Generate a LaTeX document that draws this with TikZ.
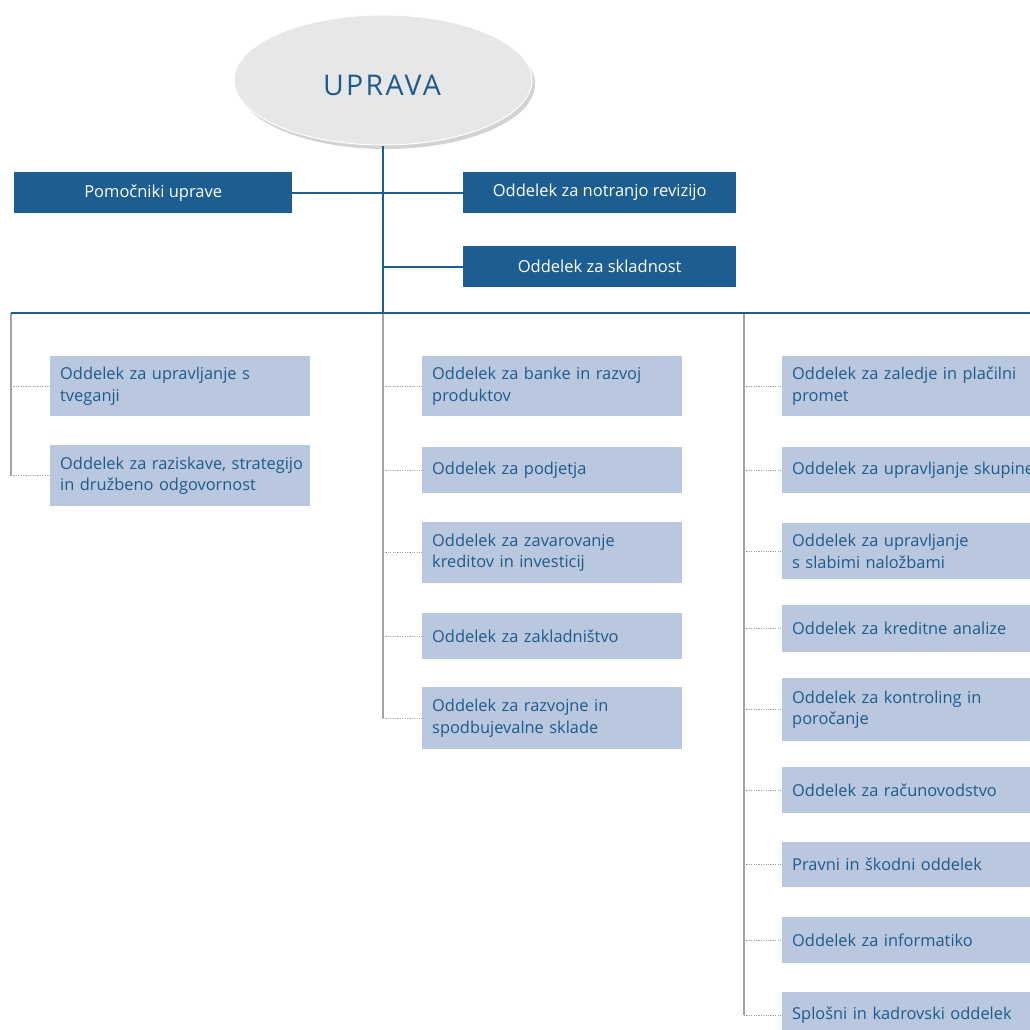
\documentclass[tikz,border=0pt]{standalone}
\usepackage{fontspec}
\setmainfont{Open Sans}
\usetikzlibrary{shapes.geometric,shadows,calc}
\definecolor{darkblue}{HTML}{1D5E92}
\definecolor{textblue}{HTML}{1F5A8C}
\definecolor{lightbox}{HTML}{B9C8DE}
\definecolor{ellfill}{HTML}{E6E7E9}
\definecolor{grayline}{HTML}{A3A3A3}
\newcommand{\oneln}[1]{\mbox{#1}}
\hfuzz=200pt
\begin{document}
\begin{tikzpicture}[x=1pt,y=-1pt,
  topbox/.style={draw=none,fill=darkblue,text=white,anchor=north west,minimum width=#1,minimum height=41pt,inner sep=0pt,font=\fontsize{16.5}{20}\selectfont},
  dept/.style={draw=none,fill=lightbox,text=textblue,anchor=north west,minimum width=260pt,minimum height=#1,inner xsep=10pt,inner ysep=0pt,text width=240pt,align=left,font=\fontsize{16.4}{21.5}\selectfont},
  trunk/.style={draw=darkblue,line width=2.4pt},
  vgray/.style={draw=grayline,line width=1.4pt},
  dotconn/.style={draw=grayline,line width=1.2pt,dash pattern=on 1.2pt off 1.2pt}]
\useasboundingbox (0,0) rectangle (1030,1030);
\clip (0,0) rectangle (1030,1030);
% top
\node[ellipse,fill=ellfill,draw=white,line width=1pt,minimum width=298pt,minimum height=130pt,
  drop shadow={shadow xshift=3pt,shadow yshift=-4pt,opacity=0.35}] (uprava) at (383,80) {};
\node[text=textblue,font=\fontsize{28.5}{30}\selectfont\addfontfeature{LetterSpace=8}] (upt) at (382,85) {UPRAVA};
\node[topbox=278pt] (pom) at (14,172) {Pomočniki uprave};
\node[topbox=273pt] (rev) at (463,172) {Oddelek za notranjo revizijo};
\node[topbox=273pt] (skl) at (463,246) {Oddelek za skladnost};
\coordinate (hb) at (383,313);
\coordinate (hL) at (11,313);
\coordinate (hR) at (1040,313);
\coordinate (v2) at (383,313);
\coordinate (v3) at (744,313);
% department boxes column 1
\node[dept=60pt] (a1) at (50,356) {\oneln{Oddelek za upravljanje s}\\\oneln{tveganji}};
\node[dept=61pt] (a2) at (50,445) {\oneln{Oddelek za raziskave, strategijo}\\\oneln{in družbeno odgovornost}};
% column 2
\node[dept=60pt] (b1) at (422,356) {\oneln{Oddelek za banke in razvoj}\\\oneln{produktov}};
\node[dept=46pt] (b2) at (422,447) {\oneln{Oddelek za podjetja}};
\node[dept=61pt] (b3) at (422,522) {\oneln{Oddelek za zavarovanje}\\\oneln{kreditov in investicij}};
\node[dept=46pt] (b4) at (422,613) {\oneln{Oddelek za zakladništvo}};
\node[dept=62pt] (b5) at (422,687) {\oneln{Oddelek za razvojne in}\\\oneln{spodbujevalne sklade}};
% column 3
\node[dept=60pt] (c1) at (782,356) {\oneln{Oddelek za zaledje in plačilni}\\\oneln{promet}};
\node[dept=46pt] (c2) at (782,447) {\oneln{Oddelek za upravljanje skupine}};
\node[dept=56pt] (c3) at (782,523) {\oneln{Oddelek za upravljanje}\\\oneln{s slabimi naložbami}};
\node[dept=47pt] (c4) at (782,605) {\oneln{Oddelek za kreditne analize}};
\node[dept=63pt] (c5) at (782,678) {\oneln{Oddelek za kontroling in}\\\oneln{poročanje}};
\node[dept=46pt] (c6) at (782,767) {\oneln{Oddelek za računovodstvo}};
\node[dept=45pt] (c7) at (782,842) {\oneln{Pravni in škodni oddelek}};
\node[dept=46pt] (c8) at (782,917) {\oneln{Oddelek za informatiko}};
\node[dept=46pt] (c9) at (782,992) {\oneln{Splošni in kadrovski oddelek}};
% gray verticals
\draw[vgray] (hL) -- (a2.west -| hL);
\draw[vgray] (v2) -- (b5.west -| v2);
\draw[vgray] (v3) -- (c9.west -| v3);
% dotted connectors
\foreach \n in {a1,a2} \draw[dotconn] (\n.west -| hL) -- (\n.west);
\foreach \n in {b1,b2,b3,b4,b5} \draw[dotconn] (\n.west -| v2) -- (\n.west);
\foreach \n in {c1,c2,c3,c4,c5,c6,c7,c8,c9} \draw[dotconn] (\n.west -| v3) -- (\n.west);
% trunk lines
\draw[trunk] (uprava.south) -- (hb);
\draw[trunk] (hL) -- (hR);
\draw[trunk] (pom.east) -- (pom.east -| hb);
\draw[trunk] (rev.west -| hb) -- (rev.west);
\draw[trunk] (skl.west -| hb) -- (skl.west);
\end{tikzpicture}
\end{document}
